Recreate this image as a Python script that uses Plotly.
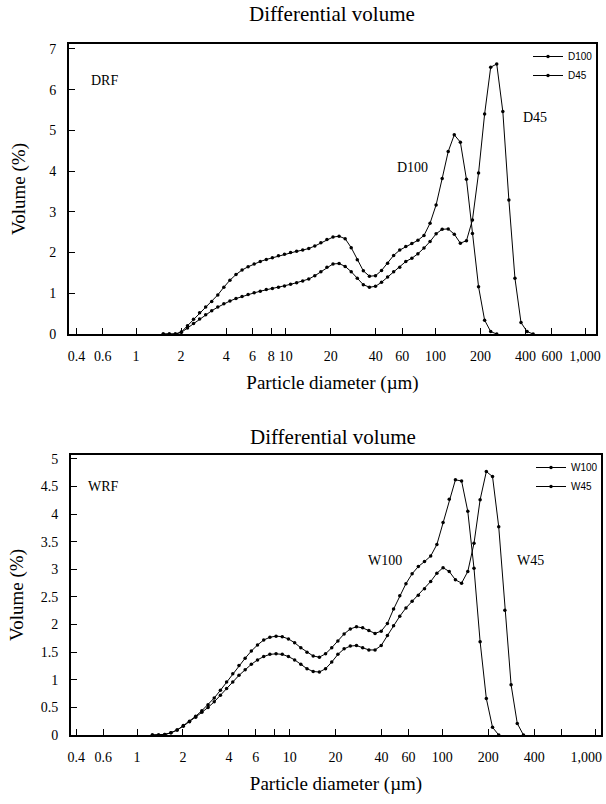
import plotly.graph_objects as go
from plotly.subplots import make_subplots

# particle size channels (um)
size_top = [1.52, 1.669, 1.832, 2.01, 2.207, 2.423, 2.66, 2.92, 3.205, 3.519, 3.863,
            4.24, 4.655, 5.11, 5.61, 6.158, 6.76, 7.421, 8.147, 8.943, 9.818,
            10.78, 11.83, 12.99, 14.26, 15.65, 17.18, 18.86, 20.7, 22.73, 24.95,
            27.39, 30.07, 33.01, 36.24, 39.78, 43.67, 47.94, 52.62, 57.77, 63.41,
            69.61, 76.42, 83.9, 92.1, 101.1, 111.0, 121.8, 133.7, 146.8, 161.2,
            176.8, 194.2, 213.2, 234.1, 256.8, 282.1, 309.6, 339.9, 373.1, 409.6,
            449.7]

d100 = [0, 0, 0, 0.05, 0.20, 0.36, 0.52, 0.66, 0.80, 0.96, 1.15,
        1.32, 1.46, 1.57, 1.65, 1.72, 1.78, 1.83, 1.87, 1.92, 1.96,
        2.00, 2.03, 2.06, 2.10, 2.16, 2.24, 2.32, 2.38, 2.40, 2.34,
        2.12, 1.82, 1.55, 1.42, 1.43, 1.56, 1.74, 1.93, 2.06, 2.15,
        2.22, 2.30, 2.42, 2.72, 3.17, 3.82, 4.48, 4.89, 4.71, 3.80,
        2.47, 1.16, 0.34, 0.06, 0]

d45 = [0, 0, 0, 0.04, 0.15, 0.26, 0.37, 0.47, 0.57, 0.66, 0.74,
       0.81, 0.87, 0.92, 0.97, 1.01, 1.05, 1.09, 1.12, 1.15, 1.18,
       1.22, 1.26, 1.30, 1.35, 1.43, 1.53, 1.64, 1.72, 1.73, 1.66,
       1.53, 1.37, 1.21, 1.15, 1.17, 1.27, 1.40, 1.53, 1.64, 1.78,
       1.86, 1.97, 2.11, 2.27, 2.46, 2.57, 2.58, 2.45, 2.23, 2.29,
       2.80, 3.95, 5.40, 6.55, 6.63, 5.46, 3.29, 1.37, 0.28, 0.06,
       0]

size_bot = [1.261, 1.385, 1.52, 1.669, 1.832, 2.01, 2.207, 2.423, 2.66, 2.92, 3.205,
            3.519, 3.863, 4.24, 4.655, 5.11, 5.61, 6.158, 6.76, 7.421, 8.147,
            8.943, 9.818, 10.78, 11.83, 12.99, 14.26, 15.65, 17.18, 18.86, 20.7,
            22.73, 24.95, 27.39, 30.07, 33.01, 36.24, 39.78, 43.67, 47.94, 52.62,
            57.77, 63.41, 69.61, 76.42, 83.9, 92.1, 101.1, 111.0, 121.8, 133.7,
            146.8, 161.2, 176.8, 194.2, 213.2, 234.1, 256.8, 282.1, 309.6, 339.9]

w100 = [0, 0, 0.01, 0.04, 0.09, 0.17, 0.25, 0.34, 0.44, 0.55, 0.67,
        0.81, 0.96, 1.11, 1.26, 1.39, 1.52, 1.63, 1.72, 1.77, 1.79,
        1.78, 1.74, 1.67, 1.58, 1.50, 1.43, 1.41, 1.47, 1.58, 1.70,
        1.83, 1.92, 1.96, 1.94, 1.89, 1.84, 1.88, 2.02, 2.28, 2.52,
        2.74, 2.92, 3.05, 3.14, 3.24, 3.45, 3.85, 4.27, 4.62, 4.60,
        4.05, 3.02, 1.69, 0.66, 0.14, 0]

w45 = [0, 0, 0.01, 0.04, 0.09, 0.16, 0.24, 0.32, 0.41, 0.50, 0.60,
       0.72, 0.84, 0.96, 1.08, 1.18, 1.28, 1.36, 1.42, 1.46, 1.47,
       1.46, 1.42, 1.36, 1.28, 1.20, 1.15, 1.14, 1.20, 1.32, 1.46,
       1.56, 1.61, 1.62, 1.58, 1.54, 1.54, 1.62, 1.80, 1.98, 2.15,
       2.30, 2.42, 2.53, 2.65, 2.78, 2.93, 3.03, 2.96, 2.81, 2.75,
       2.96, 3.47, 4.26, 4.77, 4.68, 3.77, 2.26, 0.91, 0.21, 0]

tick_top = [0.4, 0.6, 1, 2, 4, 6, 8, 10, 20, 40, 60, 100, 200, 400, 600, 1000]
text_top = ["0.4", "0.6", "1", "2", "4", "6", "8", "10", "20", "40", "60",
            "100", "200", "400", "600", "1,000"]
tick_bot = [0.4, 0.6, 1, 2, 4, 6, 8, 10, 20, 40, 60, 100, 200, 400, 600, 1000]
# trailing non-breaking spaces nudge the last label left so it stays on the page
text_bot = ["0.4", "0.6", "1", "2", "4", "6", "", "10", "20", "40", "60",
            "100", "200", "400", "", "1,000\u00a0\u00a0\u00a0\u00a0\u00a0"]

SERIF = "Liberation Serif"
W, H = 606, 804

fig = make_subplots(rows=2, cols=1)

linea = dict(color="black", width=1)
marka = dict(color="black", size=3.5)

fig.add_trace(go.Scatter(x=size_top[:len(d100)], y=d100, mode="lines+markers", name="D100",
                         line=linea, marker=marka, cliponaxis=False, legend="legend"), row=1, col=1)
fig.add_trace(go.Scatter(x=size_top, y=d45, mode="lines+markers", name="D45",
                         line=linea, marker=marka, cliponaxis=False, legend="legend"), row=1, col=1)
fig.add_trace(go.Scatter(x=size_bot[:len(w100)], y=w100, mode="lines+markers", name="W100",
                         line=linea, marker=marka, cliponaxis=False, legend="legend2"), row=2, col=1)
fig.add_trace(go.Scatter(x=size_bot, y=w45, mode="lines+markers", name="W45",
                         line=linea, marker=marka, cliponaxis=False, legend="legend2"), row=2, col=1)


def fx(rx):
    return rx / W


def fy(ry):
    return 1 - ry / H


eje = dict(showline=True, linecolor="black", linewidth=2, mirror=True,
           ticks="inside", ticklen=6, tickwidth=1, tickcolor="black",
           showgrid=False, zeroline=False, automargin=False,
           tickfont=dict(family=SERIF, size=14, color="black"))

fig.update_layout(
    width=W, height=H,
    margin=dict(l=0, r=0, t=0, b=0, autoexpand=False),
    plot_bgcolor="white", paper_bgcolor="white",
    font=dict(family=SERIF, color="black"),
    xaxis=dict(eje, type="log", domain=[fx(69), fx(596)], range=[-0.4476, 3.0728],
               tickvals=tick_top, ticktext=text_top, ticklabelstandoff=8,
               ticklabeloverflow="allow",
               title=dict(text="Particle diameter (\u00b5m)", font=dict(size=19), standoff=13)),
    yaxis=dict(eje, domain=[fy(334), fy(44)], range=[0, 7.12], dtick=1, ticklabelstandoff=8,
               title=dict(text="Volume (%)", font=dict(size=19), standoff=19)),
    xaxis2=dict(eje, type="log", domain=[fx(71), fx(601)], range=[-0.4323, 3.0393],
                tickvals=tick_bot, ticktext=text_bot, ticklabelstandoff=8,
                ticklabeloverflow="allow",
                title=dict(text="Particle diameter (\u00b5m)", font=dict(size=19), standoff=13)),
    yaxis2=dict(eje, domain=[fy(735), fy(455)], range=[0, 5.07], dtick=0.5, ticklabelstandoff=8,
                title=dict(text="Volume (%)", font=dict(size=19), standoff=12)),
    legend=dict(x=fx(598), y=fy(42), xanchor="right", yanchor="top",
                bgcolor="rgba(0,0,0,0)", font=dict(family="Liberation Sans", size=10),
                itemwidth=30, tracegroupgap=0),
    legend2=dict(x=fx(603), y=fy(453), xanchor="right", yanchor="top",
                 bgcolor="rgba(0,0,0,0)", font=dict(family="Liberation Sans", size=10),
                 itemwidth=30, tracegroupgap=0),
    showlegend=True,
)

notas = [
    ("Differential volume", 332, 14, 21),
    ("Differential volume", 333, 437, 21),
    ("DRF", 105, 80, 14),
    ("D100", 412, 168, 14),
    ("D45", 535, 117, 14),
    ("WRF", 103, 486, 14),
    ("W100", 385, 560, 14),
    ("W45", 530, 560, 14),
]
for txt, x, y, s in notas:
    fig.add_annotation(text=txt, x=fx(x), y=fy(y), xref="paper", yref="paper",
                       xanchor="center", yanchor="middle", showarrow=False,
                       font=dict(family=SERIF, size=s, color="black"))

# the default page keeps an 8 px body margin; drop it so the figure fills the window
fig.write_html("out.html", config={"displayModeBar": False},
               post_script="document.body.style.margin = '0';")
